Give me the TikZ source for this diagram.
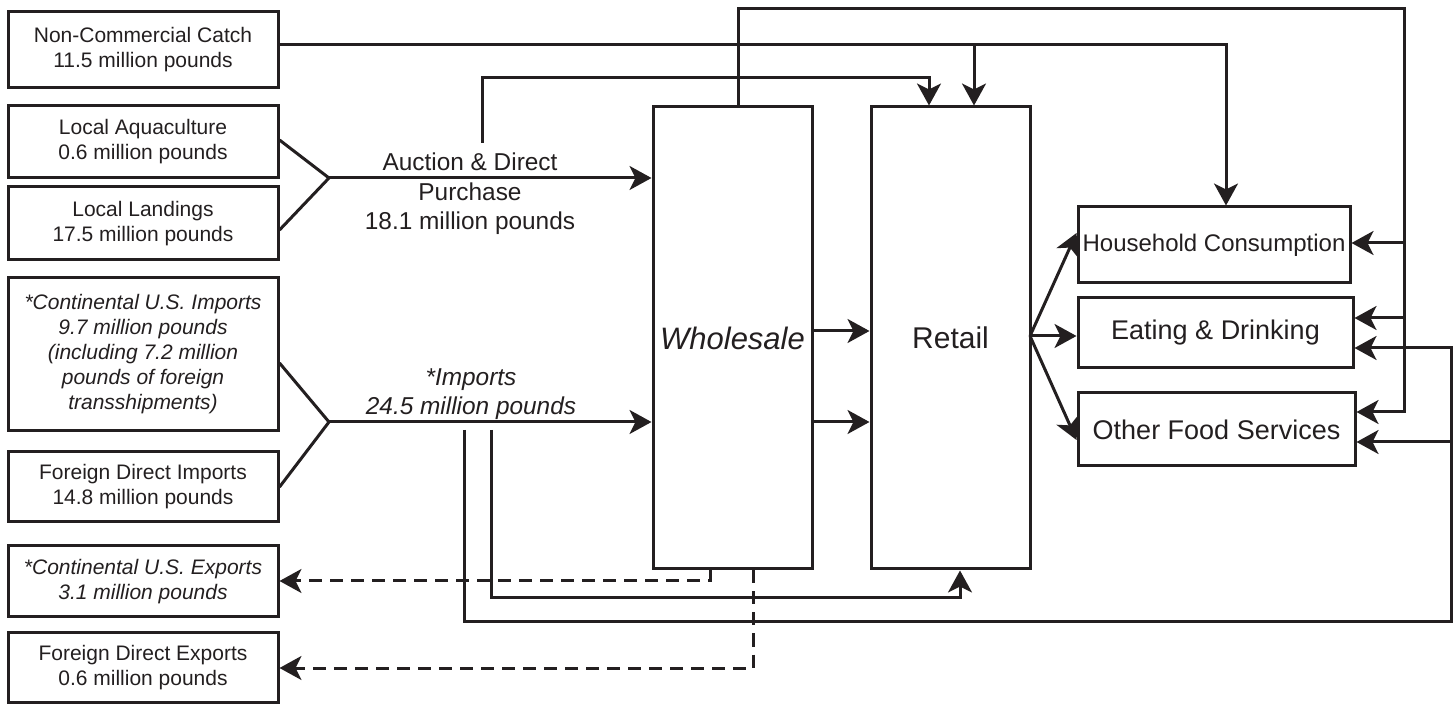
\documentclass[tikz,border=0pt]{standalone}
\usepackage{fontspec}
\setmainfont{Liberation Sans}
\usetikzlibrary{arrows.meta,calc}
\definecolor{ink}{HTML}{231F20}
\begin{document}
\begin{tikzpicture}[x=0.5pt,y=-0.5pt,
  line width=1.5pt, draw=ink,
  box/.style={draw=ink, line width=1.5pt, inner sep=0pt, align=center, text=ink,
    font=\fontsize{10.5}{12.5}\selectfont},
  srcbox/.style={box, minimum width=135pt},
  destbox/.style={box, font=\fontsize{13.5}{16}\selectfont},
  label/.style={align=center, inner sep=0pt, text=ink,
    font=\fontsize{12.2}{14.7}\selectfont},
  tip/.style={-{Stealth[length=11pt,width=12pt,inset=3pt]}},
  dashtip/.style={tip, dash pattern=on 6.5pt off 4pt}]
\useasboundingbox (0,0) rectangle (1455,704);

% sources and exports on the left
\node[srcbox, minimum height=38pt]   (ncc)  at (143,50)    {Non-Commercial Catch\\11.5 million pounds};
\node[srcbox, minimum height=36pt]   (aqua) at (143,142)   {Local Aquaculture\\0.6 million pounds};
\node[srcbox, minimum height=36.5pt] (land) at (143,223.5) {Local Landings\\17.5 million pounds};
\node[srcbox, minimum height=76.5pt] (cimp) at (143,354.5) {\itshape *Continental U.S. Imports\\\itshape 9.7 million pounds\\\itshape (including 7.2 million\\\itshape pounds of foreign\\\itshape transshipments)};
\node[srcbox, minimum height=35pt]   (fimp) at (143,487)   {Foreign Direct Imports\\14.8 million pounds};
\node[srcbox, minimum height=35.5pt] (cexp) at (143,581.5) {\itshape *Continental U.S. Exports\\\itshape 3.1 million pounds};
\node[srcbox, minimum height=34.5pt] (fexp) at (143,667.5) {Foreign Direct Exports\\0.6 million pounds};

% trade stages
\node[box, minimum width=79.5pt, minimum height=231pt, font=\fontsize{15.5}{18}\selectfont\itshape] (whole) at (732.5,338) {Wholesale};
\node[box, minimum width=79.5pt, minimum height=231pt, font=\fontsize{15}{18}\selectfont] (retail) at (950.5,338) {Retail};

% final uses
\node[destbox, minimum width=136pt, minimum height=38pt, font=\fontsize{12}{14}\selectfont] (house) at (1214,245) {Household Consumption};
\node[destbox, minimum width=137.5pt, minimum height=35pt] (eat) at (1215.5,333) {Eating \& Drinking};
\node[destbox, minimum width=138.5pt, minimum height=36.5pt] (other) at (1216.5,429.5) {Other Food Services};

% flow labels
\node[label] (auclbl) at (470,194) {Auction \& Direct\\Purchase\\18.1 million pounds};
\node[label, font=\fontsize{12.2}{14.7}\selectfont\itshape] (implbl) at (471,394) {*Imports\\24.5 million pounds};

% junctions
\coordinate (j1) at (329,178);
\coordinate (j2) at (329,422);
\coordinate (r0) at (1030,336);

% local supply into wholesale
\draw (aqua.east |- 0,140) -- (j1) -- (land.east |- 0,230);
\draw[tip] (j1) -- (whole.west |- j1);
% imports into wholesale
\draw (cimp.east |- 0,363) -- (j2) -- (fimp.east |- 0,487);
\draw[tip] (j2) -- (whole.west |- j2);

% wholesale to retail
\draw[tip] (whole.east |- 0,331) -- (retail.west |- 0,331);
\draw[tip] (whole.east |- 0,422) -- (retail.west |- 0,422);

% retail to final uses
\draw[tip] (r0) -- (house.west |- 0,233);
\draw[tip] (r0) -- (eat.west |- r0);
\draw[tip] (r0) -- (other.west |- 0,440);

% non-commercial catch
\draw[tip] (ncc.east |- 0,45) -- (1226,45) -- (house.north -| 1226,0);
\draw[tip] (974,45) -- (retail.north -| 974,0);

% auction and direct purchase straight to retail
\draw[tip] (482,143) -- (482,78) -- (929,78) -- (retail.north -| 929,0);

% wholesale straight to final uses
\draw[tip] (whole.north -| 738,0) -- (738,9) -- (1404,9) -- (1404,412) -- (other.east |- 0,412);
\draw[tip] (1404,243) -- (house.east |- 0,243);
\draw[tip] (1404,318) -- (eat.east |- 0,318);

% imports straight to food services
\draw[tip] (464,430) -- (464,622) -- (1451,622) -- (1451,348) -- (eat.east |- 0,348);
\draw[tip] (1451,442) -- (other.east |- 0,442);

% imports straight to retail
\draw[tip] (491,430) -- (491,598) -- (960,598) -- (retail.south -| 960,0);

% exports
\draw[dashtip] (whole.south -| 710,0) -- (710,581) -- (cexp.east |- 0,581);
\draw[dashtip] (whole.south -| 753,0) -- (753,668) -- (fexp.east |- 0,668);
\end{tikzpicture}
\end{document}
